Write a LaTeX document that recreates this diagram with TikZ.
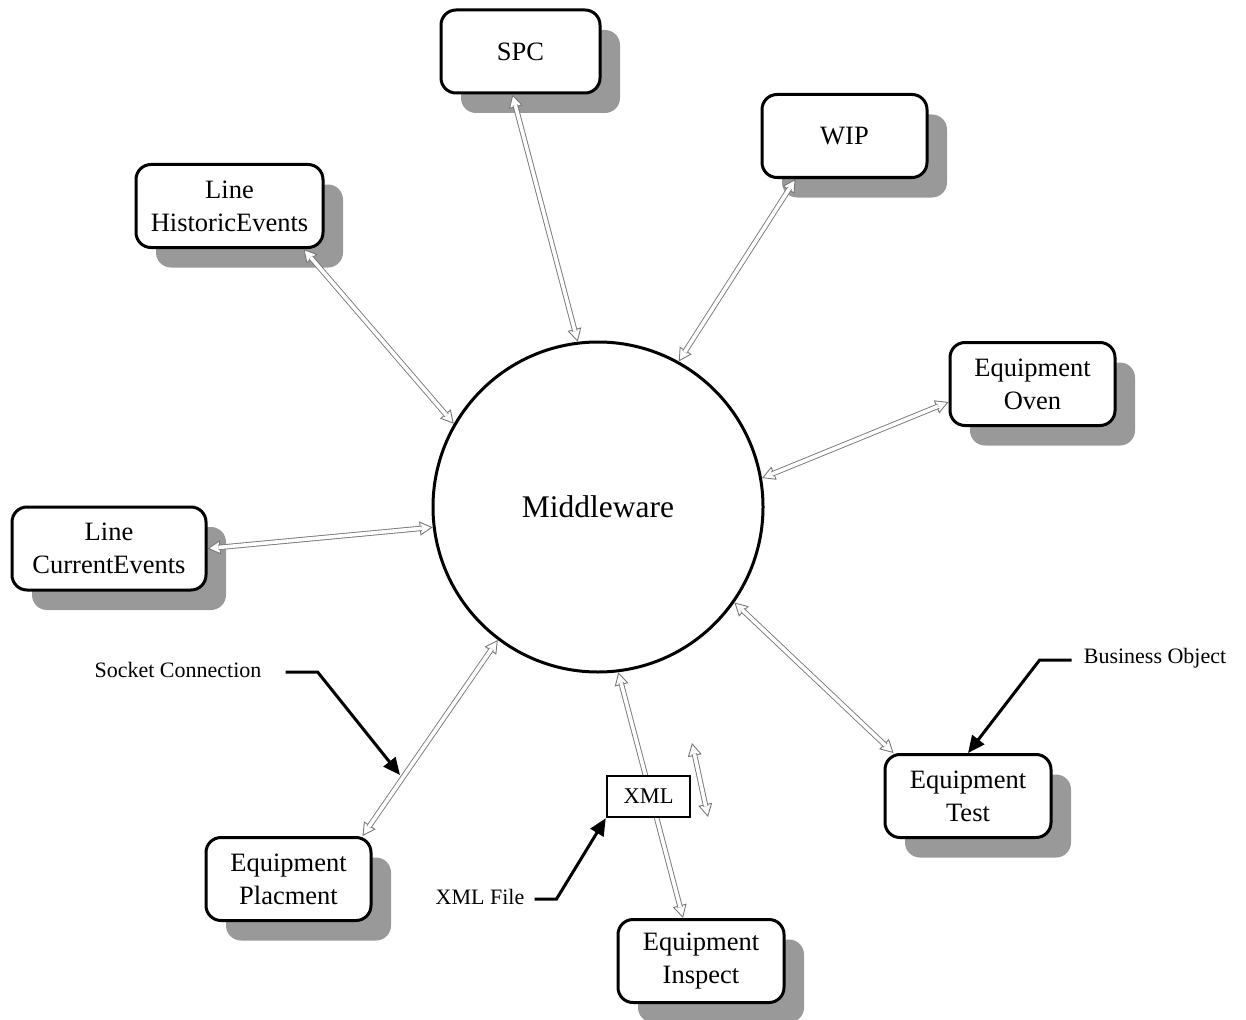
\documentclass[tikz,border=0pt]{standalone}
\usepackage{fontspec}
\setmainfont{Liberation Serif}
\usetikzlibrary{arrows.meta,calc,shadows}
\definecolor{shadowgray}{RGB}{153,153,153}
\definecolor{linkgray}{RGB}{120,120,120}
\tikzset{
  box/.style={draw, line width=3pt, rounded corners=15pt, fill=white, align=center,
    inner sep=0pt, minimum height=83pt, font=\fontsize{26.5}{33}\selectfont,
    drop shadow={shadow xshift=20pt, shadow yshift=-20pt, fill=shadowgray, opacity=1}},
  hub/.style={draw, circle, line width=3pt, minimum size=330pt, inner sep=0pt,
    fill=white, font=\fontsize{31.5}{38}\selectfont},
  note/.style={font=\fontsize{22}{26}\selectfont, inner sep=0pt},
  filebox/.style={draw, line width=2.5pt, fill=white, minimum width=83pt,
    minimum height=41pt, inner sep=0pt, font=\fontsize{22.5}{26}\selectfont},
  linkbody/.style={draw=linkgray, line width=0.9pt, double=white, double distance=3.6pt},
  linkhead/.style={draw=linkgray, line width=0.9pt,
    -{Triangle[length=13pt,width=14pt,fill=white]}},
  callout/.style={draw=black, line width=3pt, -{Triangle[length=17pt,width=15pt]}},
}
% two-way hollow link: heads first, then the double shaft over their bases
\newcommand\duallink[2]{%
  \draw[linkhead] ($(#1)!13pt!(#2)$) -- (#1);
  \draw[linkhead] ($(#2)!13pt!(#1)$) -- (#2);
  \draw[linkbody] ($(#1)!11pt!(#2)$) -- ($(#2)!11pt!(#1)$);
}
\begin{document}
\begin{tikzpicture}[x=1pt,y=-1pt]
\useasboundingbox (0,0) rectangle (1246,1019);

% systems around the hub
\node[box, minimum width=159pt] (spc)  at (520.5,51.5) {SPC};
\node[box, minimum width=165pt] (wip)  at (844.5,136)  {WIP};
\node[box, minimum width=187pt] (hist) at (229.5,206)  {Line\\HistoricEvents};
\node[box, minimum width=165pt] (oven) at (1032.5,384) {Equipment\\Oven};
\node[box, minimum width=194pt] (cur)  at (109,548.5)  {Line\\CurrentEvents};
\node[box, minimum width=166pt] (test) at (968,796)    {Equipment\\Test};
\node[box, minimum width=165pt] (plac) at (288.5,879)  {Equipment\\Placment};
\node[box, minimum width=166pt] (insp) at (701,961)    {Equipment\\Inspect};

% the hub
\node[hub] (mw) at (598,507) {Middleware};

% link end points on the boxes
\coordinate (spcE)  at ([xshift=-8pt]spc.south);
\coordinate (wipE)  at ([xshift=35pt]wip.south west);
\coordinate (histE) at ([xshift=-21pt]hist.south east);
\coordinate (ovenE) at ([yshift=-18pt]oven.west);
\coordinate (testE) at ([xshift=10pt]test.north west);
\coordinate (placE) at ([xshift=-10pt]plac.north east);
\coordinate (inspE) at ([xshift=-18pt]insp.north);

\duallink{spcE}{mw.97}
\duallink{wipE}{mw.61}
\duallink{histE}{mw.150}
\duallink{ovenE}{mw.10}
\duallink{cur.east}{mw.-173}
\duallink{testE}{mw.-35}
\duallink{placE}{mw.-127}
\duallink{inspE}{mw.-83}

% loose two-way link beside the file
\coordinate (sideA) at (692,743);
\coordinate (sideB) at (708,817);
\duallink{sideA}{sideB}

% file passed along the inspection link
\node[filebox] (xml) at (648.5,796.5) {XML};

% callouts
\node[note] (sock) at (178,670) {Socket Connection};
\coordinate (sockT) at (400,775);
\draw[callout] ([xshift=24pt,yshift=-2pt]sock.east) -- ++(32,0) -- (sockT);

\node[note] (xmlf) at (480,897) {XML File};
\draw[callout] ([xshift=10pt,yshift=-2pt]xmlf.east) -- ++(22,0) -- (xml.south west);

\node[note] (bobj) at (1155,658) {Business Object};
\draw[callout] ([xshift=-12pt,yshift=-2pt]bobj.west) -- ++(-32,0) -- (test.north);
\end{tikzpicture}
\end{document}
